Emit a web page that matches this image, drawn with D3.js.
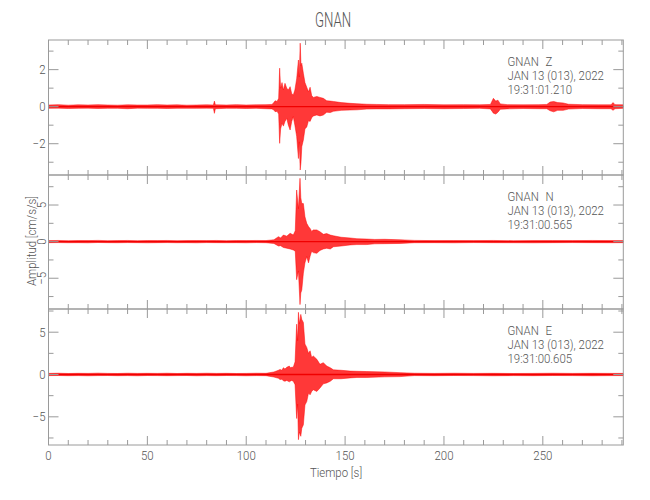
<!DOCTYPE html>
<html>
<head>
<meta charset="utf-8">
<script src="https://cdn.jsdelivr.net/npm/d3@7/dist/d3.min.js"></script>
<style>
  html, body { margin: 0; padding: 0; background: #fff; }
  svg text { font-family: Roboto, "DejaVu Sans", sans-serif; font-weight: 300; fill: #555; }
</style>
</head>
<body>
<svg id="chart" width="650" height="500"></svg>
<script>
// ---------------- DATA ----------------
const title = "GNAN";
const xLabel = "Tiempo  [s]";
const yLabel = "Amplitud  [cm/s/s]";
const xMax = 290.7;
const xTicksMajor = [0, 50, 100, 150, 200, 250];
const channels = ["Z", "N", "E"];
const dateLine = "JAN 13 (013), 2022";
const startTimes = ["19:31:01.210", "19:31:00.565", "19:31:00.605"];
const yDomains = [[-3.69, 3.6], [-9.2, 9.1], [-8.33, 7.74]];
const yMajorTicks = [[-2, 0, 2], [-5, 0, 5], [-5, 0, 5]];
const yMinorStep = [1, 2.5, 2.5];
const rotatedTickLabels = [false, true, false];

// Envelope of each trace: time (s), upper peak, lower peak
const tZ  = [0,5,10,15,20,25,30,35,40,45,50,55,60,65,70,75,80,83.4,83.9,84.4,90,95,100,105,110,113,114,114.6,115.6,116.4,116.9,117.4,118.1,118.8,119.6,120.5,121.3,122.2,123.0,123.8,124.6,125.5,126.4,126.8,127.3,127.7,128.1,128.9,129.7,130.6,131.5,132.3,133.1,133.9,135.7,137.3,139.0,140.7,142.5,144.1,148,152.5,156,161,166,172,180,190,200,210,218,223.5,225,226.2,227.3,228.5,232,240,248,252,253.7,255.5,257.5,260.3,263,270,278,284.5,285.5,286.5,290.7];
const upZ = [.09,.11,.08,.10,.09,.11,.09,.08,.10,.09,.09,.11,.09,.10,.08,.09,.10,.09,.30,.10,.09,.11,.09,.10,.11,.12,.22,.32,.28,.45,2.08,1.0,1.3,0.9,1.26,1.0,0.9,1.08,0.7,0.63,0.9,1.5,2.52,1.6,3.43,2.2,2.35,1.8,1.3,1.05,0.8,1.05,0.6,0.5,0.55,0.5,0.45,0.32,0.3,0.28,0.22,0.18,0.16,0.13,0.12,0.11,0.11,0.12,0.10,0.11,0.10,0.12,0.45,0.3,0.35,0.15,0.11,0.10,0.11,0.12,0.25,0.28,0.22,0.2,0.13,0.11,0.10,0.10,0.22,0.11,0.10];
const dnZ = [-.09,-.08,-.10,-.09,-.08,-.10,-.09,-.09,-.11,-.08,-.09,-.09,-.10,-.09,-.09,-.09,-.08,-.09,-.36,-.11,-.09,-.09,-.10,-.09,-.11,-.12,-.18,-.27,-.25,-.40,-1.98,-1.2,-0.9,-1.05,-0.8,-0.63,-1.0,-1.26,-0.8,-0.54,-1.0,-1.6,-2.8,-1.9,-3.42,-3.0,-2.16,-1.8,-1.2,-1.1,-0.75,-0.8,-0.6,-0.5,-0.45,-0.5,-0.45,-0.3,-0.32,-0.25,-0.2,-0.18,-0.17,-0.13,-0.12,-0.12,-0.11,-0.10,-0.11,-0.10,-0.09,-0.12,-0.35,-0.4,-0.3,-0.14,-0.12,-0.10,-0.11,-0.11,-0.22,-0.28,-0.2,-0.2,-0.13,-0.10,-0.11,-0.11,-0.2,-0.11,-0.09];

const tN  = [0,5,10,15,20,25,30,35,40,45,50,55,60,65,70,75,80,85,90,95,100,105,110,114,116.3,117.4,118.8,120.5,122.2,123.8,124.8,125.5,126.4,127.2,127.6,128.1,128.9,129.7,130.6,131.5,132.3,133.1,133.9,135.7,137.3,139.0,140.7,142.5,144.1,148,152.5,156,161,165,170,177.8,185,195,205,215,225,235,245,255,265,275,285,290.7];
const upN = [.14,.16,.13,.15,.14,.17,.13,.14,.16,.13,.15,.14,.16,.13,.14,.15,.14,.16,.13,.15,.14,.16,.15,.25,.68,.5,.9,.75,1.14,.9,1.5,7.05,4.5,8.65,6.0,5.2,5.2,3.4,2.5,2.05,1.8,1.4,1.6,1.6,1.35,1.0,1.1,0.9,0.8,0.6,0.5,0.4,0.35,0.3,0.32,0.25,.17,.14,.15,.14,.16,.13,.14,.15,.14,.16,.14,.14];
const dnN = [-.14,-.13,-.15,-.14,-.16,-.12,-.14,-.15,-.13,-.14,-.16,-.14,-.13,-.15,-.14,-.16,-.13,-.14,-.15,-.14,-.16,-.13,-.15,-.25,-.6,-.55,-.8,-.9,-1.0,-1.14,-1.3,-5.2,-4.0,-8.6,-7.0,-6.6,-4.3,-2.9,-2.05,-2.9,-2.0,-1.3,-1.5,-1.6,-1.2,-1.0,-0.9,-1.0,-0.7,-0.6,-0.45,-0.4,-0.4,-0.3,-0.28,-0.25,-.15,-.14,-.16,-.13,-.14,-.15,-.16,-.14,-.13,-.14,-.15,-.14];

const tE  = [0,5,10,15,20,25,30,35,40,45,50,55,60,65,70,75,80,85,90,95,100,105,110,114,116.3,117.1,118.0,118.8,119.6,120.5,121.8,122.2,123.0,123.8,124.7,125.5,126.0,126.4,126.9,127.6,128.1,128.9,129.7,130.6,131.5,132.3,133.1,133.9,135.7,137.3,139.0,140.7,142.5,144.1,148,152.5,156,161,170,177.8,185,195,205,215,225,235,245,255,265,275,285,290.7];
const upE = [.13,.15,.12,.14,.13,.16,.13,.12,.15,.13,.14,.13,.15,.12,.14,.13,.15,.13,.14,.12,.13,.15,.14,.3,.5,.6,.5,.8,.65,.85,1.0,.8,.85,.87,1.5,5.95,4.0,7.35,6.0,7.1,6.5,6.15,3.6,3.2,2.5,2.8,2.0,2.2,1.8,1.2,1.4,1.0,0.8,0.55,0.5,0.4,0.38,0.35,0.3,0.22,.15,.13,.15,.13,.14,.12,.13,.15,.13,.14,.13,.13];
const dnE = [-.13,-.12,-.14,-.13,-.15,-.13,-.12,-.14,-.13,-.15,-.12,-.13,-.14,-.13,-.12,-.15,-.13,-.14,-.12,-.13,-.15,-.13,-.14,-.3,-.45,-.6,-.55,-.75,-.8,-.7,-.87,-.8,-.7,-.8,-1.2,-5.2,-3.5,-7.7,-6.8,-7.3,-6.35,-5.95,-3.6,-3.2,-2.2,-2.4,-2.0,-1.8,-2.0,-1.6,-1.1,-1.0,-0.8,-0.5,-0.5,-0.4,-0.35,-0.35,-0.28,-0.25,-.13,-.14,-.12,-.13,-.15,-.13,-.14,-.12,-.13,-.15,-.13,-.13];

const traces = [[tZ, upZ, dnZ], [tN, upN, dnN], [tE, upE, dnE]];

// ---------------- LAYOUT ----------------
const svg = d3.select("#chart");
const left = 48.5, right = 623.3;
const panelTops = [40, 175, 309];
const panelBots = [175, 309, 445];
const frameColor = "#9a9a9a";
const SX = 0.88;

function label(parent, x, y, txt, size, anchor, sx, rot) {
  const g = parent.append("g")
    .attr("transform", `translate(${x},${y})${rot ? " rotate(" + rot + ")" : ""} scale(${sx || SX},1)`);
  g.append("text").attr("x", 0).attr("y", 0)
    .attr("text-anchor", anchor || "start")
    .style("font-size", size + "px")
    .text(txt);
  return g;
}

const x = d3.scaleLinear().domain([0, xMax]).range([left, right]);

label(svg, 333, 27, title, 20, "middle", 0.66);

const xMinor = d3.range(0, xMax, 10);

channels.forEach((ch, i) => {
  const y = d3.scaleLinear().domain(yDomains[i]).range([panelBots[i], panelTops[i]]);
  const [tt, up, dn] = traces[i];
  const pts = tt.map((t, k) => ({ t, hi: up[k], lo: dn[k] }));
  const g = svg.append("g");

  const clipId = "clip" + i;
  svg.append("clipPath").attr("id", clipId)
    .append("rect").attr("x", left).attr("y", panelTops[i])
    .attr("width", right - left).attr("height", panelBots[i] - panelTops[i]);

  const area = d3.area()
    .x(d => x(d.t))
    .y0(d => y(d.lo))
    .y1(d => y(d.hi));
  g.append("path").datum(pts)
    .attr("clip-path", `url(#${clipId})`)
    .attr("d", area)
    .attr("fill", "#ff0000")
    .attr("fill-opacity", 0.78)
    .attr("stroke", "#ff0000")
    .attr("stroke-width", 0.6)
    .attr("stroke-opacity", 0.8);
  g.append("line")
    .attr("x1", left).attr("x2", right)
    .attr("y1", y(0)).attr("y2", y(0))
    .attr("stroke", "#f00000").attr("stroke-width", 1.3);

  g.append("rect")
    .attr("x", left).attr("y", panelTops[i])
    .attr("width", right - left).attr("height", panelBots[i] - panelTops[i])
    .attr("fill", "none").attr("stroke", frameColor).attr("stroke-width", 1);

  const majSet = new Set(xTicksMajor);
  xMinor.forEach(v => {
    const len = majSet.has(v) ? 9 : 5;
    g.append("line").attr("x1", x(v)).attr("x2", x(v))
      .attr("y1", panelTops[i]).attr("y2", panelTops[i] + len)
      .attr("stroke", frameColor);
    g.append("line").attr("x1", x(v)).attr("x2", x(v))
      .attr("y1", panelBots[i]).attr("y2", panelBots[i] - len)
      .attr("stroke", frameColor);
  });

  const step = yMinorStep[i];
  const yMin = Math.ceil(yDomains[i][0] / step) * step;
  const yAll = d3.range(yMin, yDomains[i][1] + 1e-9, step);
  yAll.forEach(v => {
    const isMaj = yMajorTicks[i].some(m => Math.abs(m - v) < 1e-9);
    const len = isMaj ? 10 : 5;
    g.append("line").attr("x1", left).attr("x2", left + len)
      .attr("y1", y(v)).attr("y2", y(v)).attr("stroke", frameColor);
    g.append("line").attr("x1", right).attr("x2", right - len)
      .attr("y1", y(v)).attr("y2", y(v)).attr("stroke", frameColor);
  });
  yMajorTicks[i].forEach(v => {
    const txt = v < 0 ? "\u2212" + Math.abs(v) : String(v);
    if (rotatedTickLabels[i]) {
      label(g, left - 3, y(v), txt, 13, "middle", SX, -90);
    } else {
      label(g, left - 3, y(v) + 4.6, txt, 13, "end");
    }
  });

  const ax = 507.5, ay = panelTops[i] + 26;
  label(g, ax, ay, "GNAN", 13, "start");
  label(g, 545.5, ay, ch, 13, "start");
  label(g, ax, ay + 14, dateLine, 13, "start");
  label(g, ax, ay + 28, startTimes[i], 13, "start");
});

xTicksMajor.forEach(v => {
  label(svg, x(v), 460, String(v), 13, "middle");
});

label(svg, 336, 477, xLabel, 13, "middle");

svg.append("g")
  .attr("transform", `translate(36, 241) rotate(-90) scale(${SX},1)`)
  .append("text")
  .attr("text-anchor", "middle")
  .style("font-size", "13px")
  .text(yLabel);
</script>
</body>
</html>
